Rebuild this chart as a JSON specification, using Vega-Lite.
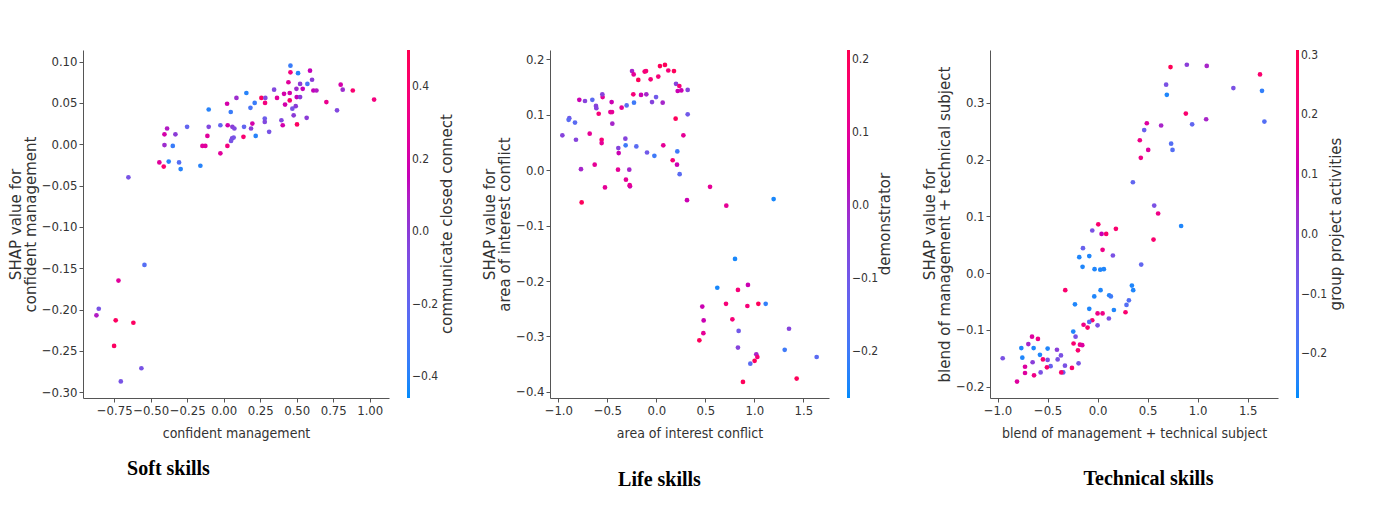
{
  "$schema": "https://vega.github.io/schema/vega-lite/v6.json",
  "background": "white",
  "padding": {"left": 8, "top": 50, "right": 5, "bottom": 5},
  "datasets": {
    "soft": [
      {"x":0.457,"y":0.095,"c":-0.35},{"x":0.457,"y":0.087,"c":0.35},{"x":0.509,"y":0.086,"c":-0.4},{"x":0.591,"y":0.089,"c":0.15},
      {"x":0.605,"y":0.078,"c":0.0},{"x":0.443,"y":0.075,"c":0.25},{"x":0.523,"y":0.073,"c":0.0},{"x":0.573,"y":0.073,"c":-0.3},
      {"x":0.498,"y":0.067,"c":0.05},{"x":0.541,"y":0.067,"c":0.15},{"x":0.614,"y":0.065,"c":0.15},{"x":0.635,"y":0.065,"c":0.1},
      {"x":0.345,"y":0.066,"c":-0.05},{"x":0.801,"y":0.072,"c":0.2},{"x":0.815,"y":0.066,"c":0.05},{"x":0.884,"y":0.065,"c":0.4},
      {"x":1.03,"y":0.054,"c":0.35},{"x":0.155,"y":0.062,"c":-0.4},{"x":0.258,"y":0.056,"c":0.45},{"x":0.285,"y":0.056,"c":-0.05},
      {"x":0.365,"y":0.056,"c":0.25},{"x":0.413,"y":0.061,"c":0.2},{"x":0.452,"y":0.062,"c":0.2},{"x":0.5,"y":0.057,"c":0.15},
      {"x":0.523,"y":0.057,"c":0.0},{"x":0.452,"y":0.053,"c":0.4},{"x":0.283,"y":0.05,"c":0.35},{"x":0.212,"y":0.05,"c":-0.35},
      {"x":0.087,"y":0.056,"c":0.05},{"x":0.023,"y":0.049,"c":0.2},{"x":0.42,"y":0.048,"c":0.2},{"x":0.493,"y":0.046,"c":0.0},
      {"x":0.47,"y":0.043,"c":-0.1},{"x":0.183,"y":0.044,"c":-0.3},{"x":0.703,"y":0.051,"c":0.3},{"x":0.776,"y":0.041,"c":-0.05},
      {"x":-0.103,"y":0.042,"c":-0.4},{"x":0.048,"y":0.039,"c":-0.35},{"x":0.479,"y":0.035,"c":0.0},{"x":0.568,"y":0.032,"c":0.0},
      {"x":0.281,"y":0.031,"c":-0.15},{"x":0.281,"y":0.027,"c":-0.05},{"x":0.395,"y":0.029,"c":-0.05},{"x":0.404,"y":0.023,"c":0.2},
      {"x":0.502,"y":0.024,"c":0.45},{"x":0.196,"y":0.025,"c":0.2},{"x":0.187,"y":0.019,"c":0.0},{"x":0.139,"y":0.021,"c":-0.2},
      {"x":0.059,"y":0.021,"c":0.0},{"x":0.073,"y":0.019,"c":-0.05},{"x":0.027,"y":0.023,"c":0.2},{"x":-0.023,"y":0.023,"c":-0.2},
      {"x":-0.103,"y":0.021,"c":-0.05},{"x":-0.251,"y":0.021,"c":-0.2},{"x":0.311,"y":0.015,"c":-0.1},{"x":0.219,"y":0.01,"c":-0.4},
      {"x":0.135,"y":0.009,"c":0.4},{"x":0.057,"y":0.007,"c":-0.05},{"x":0.068,"y":0.008,"c":-0.1},{"x":0.05,"y":0.004,"c":-0.1},
      {"x":0.025,"y":-0.002,"c":0.35},{"x":-0.023,"y":-0.011,"c":0.25},{"x":-0.112,"y":0.01,"c":0.25},{"x":-0.146,"y":-0.002,"c":0.25},
      {"x":-0.126,"y":-0.002,"c":0.25},{"x":-0.331,"y":0.012,"c":0.0},{"x":-0.388,"y":0.019,"c":0.1},{"x":-0.406,"y":0.012,"c":0.2},
      {"x":-0.406,"y":-0.001,"c":0.05},{"x":-0.349,"y":-0.002,"c":-0.35},{"x":-0.441,"y":-0.022,"c":0.25},{"x":-0.411,"y":-0.027,"c":0.4},
      {"x":-0.377,"y":-0.021,"c":-0.4},{"x":-0.306,"y":-0.022,"c":-0.25},{"x":-0.295,"y":-0.03,"c":-0.4},{"x":-0.16,"y":-0.026,"c":-0.4},
      {"x":-0.653,"y":-0.04,"c":-0.1},{"x":-0.543,"y":-0.146,"c":-0.25},{"x":-0.721,"y":-0.165,"c":0.25},{"x":-0.856,"y":-0.199,"c":-0.1},
      {"x":-0.872,"y":-0.207,"c":0.1},{"x":-0.74,"y":-0.213,"c":0.45},{"x":-0.619,"y":-0.216,"c":0.45},{"x":-0.751,"y":-0.244,"c":0.45},
      {"x":-0.564,"y":-0.271,"c":-0.1},{"x":-0.705,"y":-0.287,"c":-0.1}
    ],
    "life": [
      {"x":-0.248,"y":0.179,"c":0.0},{"x":-0.231,"y":0.173,"c":0.1},{"x":-0.119,"y":0.178,"c":0.15},{"x":-0.105,"y":0.179,"c":0.15},
      {"x":-0.184,"y":0.163,"c":0.2},{"x":-0.058,"y":0.164,"c":0.15},{"x":0.02,"y":0.169,"c":0.15},{"x":0.037,"y":0.188,"c":0.2},
      {"x":0.088,"y":0.19,"c":0.2},{"x":0.122,"y":0.18,"c":0.15},{"x":0.18,"y":0.179,"c":0.2},{"x":0.201,"y":0.156,"c":-0.05},
      {"x":0.235,"y":0.152,"c":0.15},{"x":0.218,"y":0.143,"c":0.05},{"x":0.255,"y":0.144,"c":0.05},{"x":0.32,"y":0.145,"c":-0.05},
      {"x":-0.235,"y":0.137,"c":0.15},{"x":-0.156,"y":0.136,"c":0.05},{"x":-0.102,"y":0.137,"c":0.0},{"x":-0.003,"y":0.132,"c":-0.1},
      {"x":-0.044,"y":0.123,"c":-0.05},{"x":0.065,"y":0.122,"c":0.0},{"x":-0.228,"y":0.122,"c":-0.2},{"x":-0.303,"y":0.117,"c":-0.15},
      {"x":-0.354,"y":0.113,"c":0.1},{"x":-0.456,"y":0.123,"c":0.05},{"x":-0.548,"y":0.132,"c":0.1},{"x":-0.551,"y":0.137,"c":-0.05},
      {"x":-0.653,"y":0.127,"c":-0.15},{"x":-0.728,"y":0.125,"c":-0.05},{"x":-0.786,"y":0.127,"c":0.05},{"x":-0.616,"y":0.116,"c":-0.05},
      {"x":-0.612,"y":0.112,"c":-0.05},{"x":-0.588,"y":0.102,"c":0.15},{"x":-0.469,"y":0.105,"c":0.1},{"x":-0.452,"y":0.105,"c":0.1},
      {"x":-0.449,"y":0.084,"c":0.0},{"x":-0.888,"y":0.094,"c":-0.1},{"x":-0.895,"y":0.091,"c":-0.15},{"x":-0.83,"y":0.086,"c":-0.15},
      {"x":-0.959,"y":0.063,"c":-0.05},{"x":-0.82,"y":0.055,"c":-0.05},{"x":-0.68,"y":0.066,"c":0.1},{"x":-0.558,"y":0.055,"c":0.15},
      {"x":-0.558,"y":0.049,"c":0.1},{"x":-0.316,"y":0.057,"c":-0.05},{"x":-0.313,"y":0.045,"c":-0.2},{"x":-0.204,"y":0.043,"c":-0.15},
      {"x":-0.095,"y":0.032,"c":-0.1},{"x":-0.02,"y":0.026,"c":-0.2},{"x":0.071,"y":0.045,"c":0.1},{"x":0.197,"y":0.093,"c":0.2},
      {"x":0.32,"y":0.101,"c":-0.1},{"x":0.276,"y":0.063,"c":0.1},{"x":0.214,"y":0.034,"c":-0.2},{"x":0.167,"y":0.018,"c":0.15},
      {"x":0.211,"y":0.01,"c":0.05},{"x":0.238,"y":-0.007,"c":-0.15},{"x":-0.388,"y":0.04,"c":-0.05},{"x":-0.384,"y":0.031,"c":0.05},
      {"x":-0.391,"y":0.001,"c":0.1},{"x":-0.276,"y":0.001,"c":0.0},{"x":-0.31,"y":-0.017,"c":0.1},{"x":-0.269,"y":-0.029,"c":0.05},
      {"x":-0.272,"y":-0.027,"c":0.1},{"x":-0.524,"y":-0.031,"c":0.1},{"x":-0.629,"y":0.01,"c":0.1},{"x":-0.769,"y":0.002,"c":0.0},
      {"x":-0.762,"y":-0.058,"c":0.2},{"x":0.313,"y":-0.054,"c":0.05},{"x":0.548,"y":-0.03,"c":0.1},{"x":0.714,"y":-0.064,"c":0.1},
      {"x":1.197,"y":-0.052,"c":-0.25},{"x":0.803,"y":-0.16,"c":-0.25},{"x":0.622,"y":-0.212,"c":-0.25},{"x":0.833,"y":-0.216,"c":0.15},
      {"x":0.935,"y":-0.207,"c":0.05},{"x":0.711,"y":-0.241,"c":0.15},{"x":0.929,"y":-0.245,"c":0.15},{"x":1.041,"y":-0.241,"c":0.2},
      {"x":1.116,"y":-0.241,"c":-0.22},{"x":0.469,"y":-0.246,"c":0.05},{"x":0.483,"y":-0.271,"c":0.05},{"x":0.776,"y":-0.269,"c":0.15},
      {"x":0.48,"y":-0.294,"c":0.1},{"x":0.439,"y":-0.307,"c":0.2},{"x":0.84,"y":-0.29,"c":-0.1},{"x":1.354,"y":-0.286,"c":-0.05},
      {"x":0.833,"y":-0.32,"c":-0.05},{"x":1.31,"y":-0.324,"c":-0.2},{"x":1.02,"y":-0.332,"c":0.0},{"x":1.031,"y":-0.337,"c":0.15},
      {"x":0.959,"y":-0.349,"c":-0.15},{"x":1.003,"y":-0.344,"c":0.2},{"x":1.636,"y":-0.337,"c":-0.15},{"x":0.884,"y":-0.382,"c":0.2},
      {"x":1.432,"y":-0.376,"c":0.2}
    ],
    "tech": [
      {"x":0.729,"y":0.363,"c":0.3},{"x":0.892,"y":0.367,"c":0.0},{"x":1.091,"y":0.365,"c":0.05},{"x":1.623,"y":0.35,"c":0.25},
      {"x":0.685,"y":0.332,"c":-0.05},{"x":0.692,"y":0.314,"c":-0.25},{"x":1.357,"y":0.326,"c":-0.05},{"x":1.643,"y":0.321,"c":-0.22},
      {"x":0.882,"y":0.281,"c":0.25},{"x":1.085,"y":0.271,"c":0.05},{"x":1.667,"y":0.267,"c":-0.15},{"x":0.945,"y":0.262,"c":-0.12},
      {"x":0.635,"y":0.26,"c":0.05},{"x":0.492,"y":0.264,"c":0.15},{"x":0.466,"y":0.252,"c":-0.1},{"x":0.422,"y":0.234,"c":0.2},
      {"x":0.506,"y":0.217,"c":0.15},{"x":0.432,"y":0.203,"c":0.2},{"x":0.735,"y":0.228,"c":-0.15},{"x":0.749,"y":0.217,"c":-0.15},
      {"x":0.353,"y":0.16,"c":-0.12},{"x":0.566,"y":0.119,"c":-0.05},{"x":0.605,"y":0.105,"c":0.2},{"x":0.835,"y":0.083,"c":-0.25},
      {"x":0.559,"y":0.059,"c":0.25},{"x":0.007,"y":0.086,"c":0.25},{"x":-0.053,"y":0.075,"c":-0.05},{"x":0.04,"y":0.069,"c":0.1},
      {"x":0.086,"y":0.069,"c":0.25},{"x":0.183,"y":0.078,"c":0.25},{"x":0.05,"y":0.041,"c":0.2},{"x":-0.146,"y":0.044,"c":-0.1},
      {"x":-0.183,"y":0.028,"c":-0.25},{"x":-0.083,"y":0.03,"c":-0.25},{"x":0.153,"y":0.031,"c":-0.05},{"x":-0.15,"y":0.011,"c":-0.25},
      {"x":-0.03,"y":0.007,"c":-0.25},{"x":0.027,"y":0.006,"c":-0.25},{"x":0.063,"y":0.007,"c":-0.25},{"x":0.436,"y":0.015,"c":-0.12},
      {"x":-0.323,"y":-0.03,"c":0.25},{"x":0.343,"y":-0.022,"c":-0.25},{"x":0.356,"y":-0.03,"c":-0.25},{"x":0.03,"y":-0.03,"c":-0.25},
      {"x":-0.033,"y":-0.041,"c":-0.25},{"x":0.116,"y":-0.039,"c":-0.25},{"x":0.133,"y":-0.041,"c":-0.2},{"x":-0.226,"y":-0.055,"c":-0.25},
      {"x":0.313,"y":-0.048,"c":-0.15},{"x":0.289,"y":-0.056,"c":-0.15},{"x":-0.083,"y":-0.063,"c":-0.25},{"x":0.163,"y":-0.065,"c":-0.25},
      {"x":0.279,"y":-0.069,"c":0.25},{"x":0.0,"y":-0.071,"c":0.2},{"x":0.05,"y":-0.071,"c":0.2},{"x":0.113,"y":-0.08,"c":-0.05},
      {"x":-0.053,"y":-0.083,"c":0.25},{"x":-0.083,"y":-0.086,"c":-0.15},{"x":-0.14,"y":-0.091,"c":0.2},{"x":-0.1,"y":-0.096,"c":0.25},
      {"x":0.0,"y":-0.092,"c":-0.05},{"x":-0.243,"y":-0.103,"c":-0.25},{"x":-0.22,"y":-0.112,"c":-0.05},{"x":-0.24,"y":-0.124,"c":0.25},
      {"x":-0.176,"y":-0.126,"c":0.2},{"x":-0.153,"y":-0.127,"c":0.15},{"x":-0.196,"y":-0.136,"c":0.25},{"x":-0.19,"y":-0.159,"c":-0.05},
      {"x":-0.256,"y":-0.167,"c":0.25},{"x":-0.326,"y":-0.163,"c":-0.05},{"x":-0.343,"y":-0.175,"c":-0.1},{"x":-0.363,"y":-0.175,"c":0.25},
      {"x":-0.406,"y":-0.135,"c":0.0},{"x":-0.366,"y":-0.145,"c":-0.05},{"x":-0.399,"y":-0.152,"c":-0.05},{"x":-0.469,"y":-0.164,"c":-0.1},
      {"x":-0.499,"y":-0.133,"c":-0.25},{"x":-0.499,"y":-0.153,"c":-0.05},{"x":-0.506,"y":-0.166,"c":0.25},{"x":-0.546,"y":-0.152,"c":0.25},
      {"x":-0.576,"y":-0.144,"c":-0.25},{"x":-0.596,"y":-0.116,"c":0.2},{"x":-0.569,"y":-0.175,"c":-0.05},{"x":-0.639,"y":-0.132,"c":-0.25},
      {"x":-0.649,"y":-0.157,"c":0.0},{"x":-0.655,"y":-0.112,"c":0.15},{"x":-0.692,"y":-0.125,"c":0.05},{"x":-0.762,"y":-0.132,"c":-0.25},
      {"x":-0.752,"y":-0.149,"c":-0.25},{"x":-0.725,"y":-0.165,"c":0.15},{"x":-0.725,"y":-0.176,"c":0.15},{"x":-0.635,"y":-0.18,"c":0.2},
      {"x":-0.805,"y":-0.191,"c":0.15},{"x":-0.948,"y":-0.15,"c":-0.05}
    ]
  },
  "config": {
    "view": {"stroke": null},
    "axis": {
      "grid": false,
      "domainColor": "#555555",
      "tickColor": "#555555",
      "tickSize": 4,
      "labelColor": "#333333",
      "titleColor": "#333333",
      "labelFont": "DejaVu Sans Condensed",
      "labelFontSize": 13,
      "titleFont": "DejaVu Sans Condensed",
      "titleFontSize": 14,
      "titleFontWeight": "normal"
    },
    "axisX": {"titlePadding": 9},
    "axisY": {"titleFont": "DejaVu Sans", "titleFontSize": 15, "titleLineHeight": 15, "titlePadding": 3},
    "legend": {
      "gradientLength": 348,
      "gradientThickness": 3,
      "gradientStrokeWidth": 0,
      "labelFont": "DejaVu Sans Condensed",
      "labelFontSize": 12,
      "labelColor": "#333333",
      "labelOffset": 6,
      "offset": 18
    },
    "title": {"font": "DejaVu Sans", "fontSize": 15, "fontWeight": "normal", "color": "#333333", "orient": "right", "frame": "group", "anchor": "middle", "angle": 270, "baseline": "top"}
  },
  "spacing": 161,
  "bounds": "flush",
  "resolve": {"scale": {"color": "independent"}, "legend": {"color": "independent"}},
  "hconcat": [
    {
      "width": 306,
      "height": 348,
      "data": {"name": "soft"},
      "title": {"text": "communicate closed connect", "offset": -14},
      "resolve": {"scale": {"x": "independent"}, "axis": {"x": "independent"}},
      "layer": [
        {
          "mark": {"type": "circle", "size": 22, "opacity": 1},
          "encoding": {
            "x": {"field": "x", "type": "quantitative", "scale": {"domain": [-0.964, 1.132], "nice": false, "zero": false},
                  "axis": {"title": "confident management", "values": [-0.75, -0.5, -0.25, 0, 0.25, 0.5, 0.75, 1.0], "format": ".2f"}},
            "y": {"field": "y", "type": "quantitative", "scale": {"domain": [-0.307, 0.114], "nice": false, "zero": false},
                  "axis": {"title": ["SHAP value for", "confident management"], "values": [-0.3, -0.25, -0.2, -0.15, -0.1, -0.05, 0, 0.05, 0.1], "format": ".2f"}},
            "color": {"field": "c", "type": "quantitative",
                      "scale": {"domain": [-0.46, 0.02, 0.5], "range": ["#008bfb", "#8f35d4", "#ff0052"]},
                      "legend": {"title": null, "values": [-0.4, -0.2, 0, 0.2, 0.4], "format": ".1f"}}
          }
        },
        {
          "mark": {"type": "circle", "opacity": 0},
          "encoding": {
            "x": {"field": "x", "type": "quantitative",
                  "axis": {"orient": "bottom", "title": "Soft skills", "labels": false, "ticks": false, "domain": false,
                           "titleFont": "Liberation Serif", "titleFontSize": 20, "titleFontWeight": "bold", "titleColor": "#000000",
                           "titlePadding": 60, "titleX": 85}}
          }
        }
      ]
    },
    {
      "width": 279,
      "height": 348,
      "data": {"name": "life"},
      "title": {"text": "demonstrator", "offset": -16},
      "resolve": {"scale": {"x": "independent"}, "axis": {"x": "independent"}},
      "layer": [
        {
          "mark": {"type": "circle", "size": 22, "opacity": 1},
          "encoding": {
            "x": {"field": "x", "type": "quantitative", "scale": {"domain": [-1.085, 1.762], "nice": false, "zero": false},
                  "axis": {"title": "area of interest conflict", "values": [-1.0, -0.5, 0, 0.5, 1.0, 1.5], "format": ".1f"}},
            "y": {"field": "y", "type": "quantitative", "scale": {"domain": [-0.411, 0.217], "nice": false, "zero": false},
                  "axis": {"title": ["SHAP value for", "area of interest conflict"], "values": [-0.4, -0.3, -0.2, -0.1, 0, 0.1, 0.2], "format": ".1f"}},
            "color": {"field": "c", "type": "quantitative",
                      "scale": {"domain": [-0.264, -0.025, 0.213], "range": ["#008bfb", "#8f35d4", "#ff0052"]},
                      "legend": {"title": null, "values": [-0.2, -0.1, 0, 0.1, 0.2], "format": ".1f"}}
          }
        },
        {
          "mark": {"type": "circle", "opacity": 0},
          "encoding": {
            "x": {"field": "x", "type": "quantitative",
                  "axis": {"orient": "bottom", "title": "Life skills", "labels": false, "ticks": false, "domain": false,
                           "titleFont": "Liberation Serif", "titleFontSize": 20, "titleFontWeight": "bold", "titleColor": "#000000",
                           "titlePadding": 71, "titleX": 109}}
          }
        }
      ]
    },
    {
      "width": 288,
      "height": 348,
      "data": {"name": "tech"},
      "title": {"text": "group project activities", "offset": -14},
      "resolve": {"scale": {"x": "independent"}, "axis": {"x": "independent"}},
      "layer": [
        {
          "mark": {"type": "circle", "size": 22, "opacity": 1},
          "encoding": {
            "x": {"field": "x", "type": "quantitative", "scale": {"domain": [-1.075, 1.803], "nice": false, "zero": false},
                  "axis": {"title": "blend of management + technical subject", "values": [-1.0, -0.5, 0, 0.5, 1.0, 1.5], "format": ".1f"}},
            "y": {"field": "y", "type": "quantitative", "scale": {"domain": [-0.22, 0.393], "nice": false, "zero": false},
                  "axis": {"title": ["SHAP value for", "blend of management + technical subject"], "values": [-0.2, -0.1, 0, 0.1, 0.2, 0.3], "format": ".1f"}},
            "color": {"field": "c", "type": "quantitative",
                      "scale": {"domain": [-0.275, 0.017, 0.308], "range": ["#008bfb", "#8f35d4", "#ff0052"]},
                      "legend": {"title": null, "values": [-0.2, -0.1, 0, 0.1, 0.2, 0.3], "format": ".1f"}}
          }
        },
        {
          "mark": {"type": "circle", "opacity": 0},
          "encoding": {
            "x": {"field": "x", "type": "quantitative",
                  "axis": {"orient": "bottom", "title": "Technical skills", "labels": false, "ticks": false, "domain": false,
                           "titleFont": "Liberation Serif", "titleFontSize": 20, "titleFontWeight": "bold", "titleColor": "#000000",
                           "titlePadding": 70, "titleX": 158}}
          }
        }
      ]
    }
  ]
}
